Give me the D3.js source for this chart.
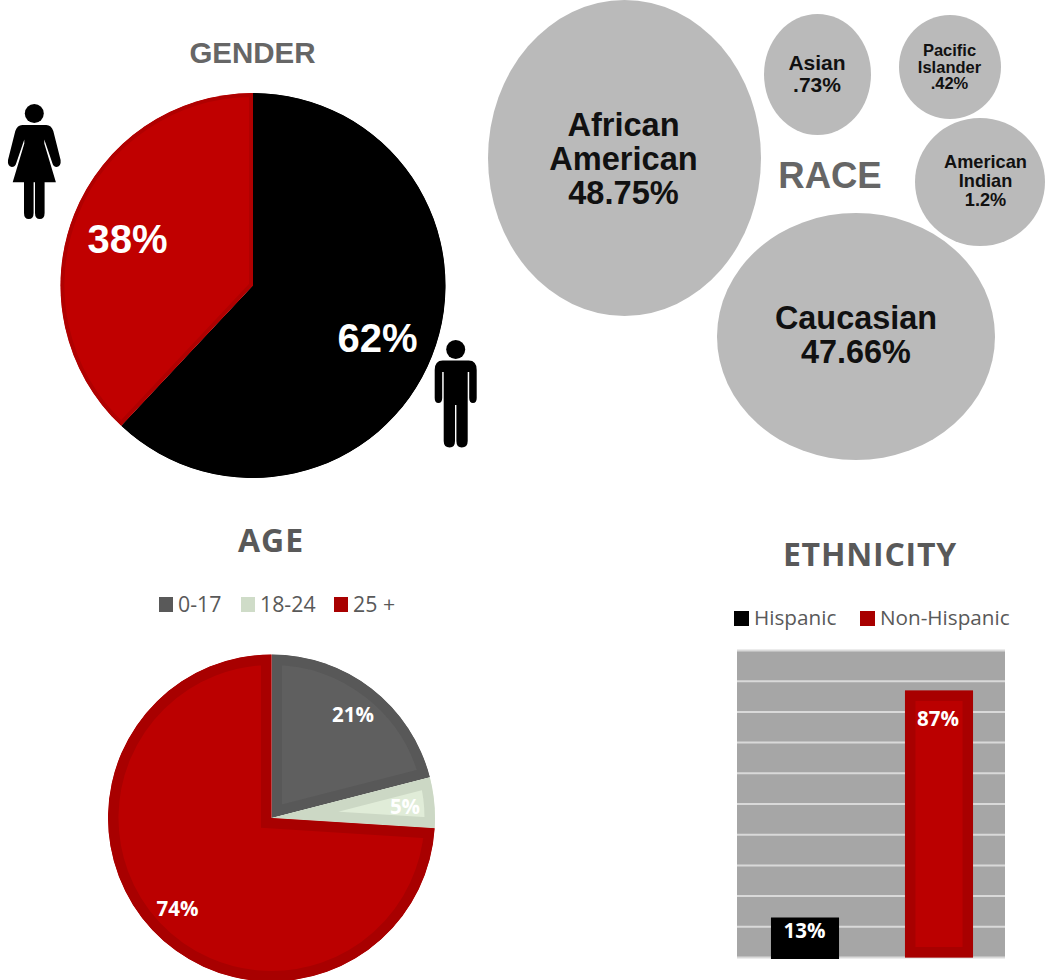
<!DOCTYPE html>
<html><head><meta charset="utf-8">
<script src="https://d3js.org/d3.v7.min.js"></script>
<style>html,body{margin:0;padding:0;background:#fff}svg{display:block}</style>
</head><body>
<script>
const genderLabels=["Male","Female"];
const genderValues=[62,38];
const raceLabels=[["African","American","48.75%"],["Asian",".73%"],["Pacific","Islander",".42%"],["American","Indian","1.2%"],["Caucasian","47.66%"]];
const ageLabels=["0-17","18-24","25 +"];
const ageValues=[21,5,74];
const ethnicityLabels=["Hispanic","Non-Hispanic"];
const ethnicityValues=[13,87];
const gridTicks=[0,10,20,30,40,50,60,70,80,90,100];

const W=1045,H=980;
const svg=d3.select("body").append("svg").attr("width",W).attr("height",H);
const defs=svg.append("defs");
const arial="'Liberation Sans',Arial,sans-serif", cal="'Open Sans',sans-serif";
const RED="#bb0000",REDD="#a80000";
function txt(x,y,s,size,weight,fill,fam,anchor="middle",sp=null){
  const t=svg.append("text").attr("x",x).attr("y",y).text(s).attr("font-size",size).attr("font-weight",weight)
   .attr("fill",fill).attr("font-family",fam).attr("text-anchor",anchor);
  if(sp!==null)t.attr("letter-spacing",sp);
  return t;
}
let clipId=0;
function insetShape(sel,d,fill,stroke,inset){
  const id="c"+(clipId++);
  defs.append("clipPath").attr("id",id).append("path").attr("d",d);
  sel.append("path").attr("d",d).attr("fill",fill).attr("stroke",stroke).attr("stroke-width",inset*2)
    .attr("stroke-linejoin","miter").attr("clip-path",`url(#${id})`);
}

// GENDER
txt(252.5,63,"GENDER",29.5,700,"#666",arial);
const gPie=d3.pie().sort(null)(genderValues);
const gG=svg.append("g").attr("transform","translate(253,285.5)");
const gArc=d3.arc().innerRadius(0).outerRadius(192.5);
const gCols=["#000","#c00000"],gStr=["#000","#b00000"];
gPie.forEach((p,i)=>insetShape(gG,gArc(p),gCols[i],gStr[i],4));
txt(127.5,252.5,"38%",40,700,"#fff",arial);
txt(377.5,351.5,"62%",40,700,"#fff",arial);

function person(cx,top,female){
  const g=svg.append("g").attr("transform",`translate(${cx},${top})`).attr("fill","#000");
  if(female){
    g.append("circle").attr("cx",0).attr("cy",9.5).attr("r",9.5);
    g.append("path").attr("d","M-12,21 H12 Q17,21 19,27 L26.3,56 Q27,62 22.5,63 Q19,63 18,59 L10,35.5 L10,39.5 L21.6,78.3 H10.3 V109 Q10.3,115 5.5,115 Q0.7,115 0.7,109 V78.3 H-0.7 V109 Q-0.7,115 -5.5,115 Q-10.3,115 -10.3,109 V78.3 H-21.6 L-10,39.5 L-10,35.5 L-18,59 Q-19,63 -22.5,63 Q-27,62 -26.3,56 L-19,27 Q-17,21 -12,21 Z");
  }else{
    g.append("circle").attr("cx",0).attr("cy",9.5).attr("r",9.5);
    g.append("path").attr("d","M-13,20.5 H13 Q21,20.5 21,30 V58 Q21,63 17.3,63 Q13.5,63 13.5,58 V32 H12 V101 Q12,107.5 6,107.5 Q0.7,107.5 0.7,101 V65 H-0.7 V101 Q-0.7,107.5 -6,107.5 Q-12,107.5 -12,101 V32 H-13.5 V58 Q-13.5,63 -17.3,63 Q-21,63 -21,58 V30 Q-21,20.5 -13,20.5 Z");
  }
}
person(34.3,104,true);
person(455.7,340,false);

// RACE
const ellipses=[[624.5,158,136.5,158],[817.5,74.5,53.5,60.5],[950,67,51,52],[980,182,65,64],[856,336.5,139,123.5]];
const raceFill="#bababa";
ellipses.forEach(e=>svg.append("ellipse").attr("cx",e[0]).attr("cy",e[1]).attr("rx",e[2]).attr("ry",e[3]).attr("fill",raceFill));
const raceText=[
 [623.5,[136,170,204],32.6],[817,[70,92],21],[949.5,[56,73,89],16.5],[985.5,[168,187,206],18.2],[856,[329,363],32.4]];
raceLabels.forEach((L,i)=>L.forEach((s,j)=>txt(raceText[i][0],raceText[i][1][j],s,raceText[i][2],700,"#111",arial)));
txt(830,188,"RACE",36.5,700,"#666",arial);

// AGE
txt(271,552,"AGE",32,700,"#595959",cal,"middle",1);
const ageCols=["#5f5f5f","#e0ecd8",RED],ageStr=["#585858","#ccd8c5",REDD];
const aG=svg.append("g").attr("transform","translate(271.5,818)");
const aPie=d3.pie().sort(null)(ageValues);
const aArc=d3.arc().innerRadius(0).outerRadius(163.5);
aPie.forEach((p,i)=>insetShape(aG,aArc(p),ageCols[i],ageStr[i],10.5));
txt(353,722,"21%",20.5,700,"#fff",cal);
txt(405,814,"5%",20.5,700,"#fff",cal);
txt(177.5,916,"74%",20.5,700,"#fff",cal);
const legA=[[159,178],[241,260],[334,353]];
const ageLeg=["#595959","#cfdcc8",REDD];
ageLabels.forEach((s,i)=>{
  svg.append("rect").attr("x",legA[i][0]).attr("y",597).attr("width",14).attr("height",15).attr("fill",ageLeg[i]);
  txt(legA[i][1],612,s,21.3,400,"#595959",cal,"start");
});

// ETHNICITY
txt(870,566,"ETHNICITY",32,700,"#595959",cal,"middle",.8);
const legE=[[734,754],[860,880]],ethLeg=["#000",REDD];
ethnicityLabels.forEach((s,i)=>{
  svg.append("rect").attr("x",legE[i][0]).attr("y",611).attr("width",15).attr("height",15).attr("fill",ethLeg[i]);
  txt(legE[i][1],625,s,20.7,400,"#595959",cal,"start");
});
const x=d3.scaleBand().domain(ethnicityLabels).range([738,1006]).paddingInner(.492).paddingOuter(.246);
const y=d3.scaleLinear().domain([0,100]).range([957.5,650.5]);
svg.append("rect").attr("x",737).attr("y",y(100)).attr("width",268).attr("height",y(0)-y(100)).attr("fill","#a6a6a6");
svg.append("g").selectAll("line").data(gridTicks).join("line")
  .attr("x1",737).attr("x2",1005).attr("y1",d=>y(d)).attr("y2",d=>y(d))
  .attr("stroke","#d9d9d9").attr("stroke-width",2);
ethnicityLabels.forEach((c,i)=>{
  const bx=x(c),bw=x.bandwidth(),by=y(ethnicityValues[i]);
  const d=`M${bx},${by}h${bw}V${y(0)+(i==0?1.5:0)}H${bx}Z`;
  if(i==0) svg.append("path").attr("d",d).attr("fill","#000");
  else insetShape(svg,d,RED,REDD,10.5);
});
txt(804.5,938,"13%",20.5,700,"#fff",cal);
txt(938,726,"87%",20.5,700,"#fff",cal);
</script>
</body></html>
